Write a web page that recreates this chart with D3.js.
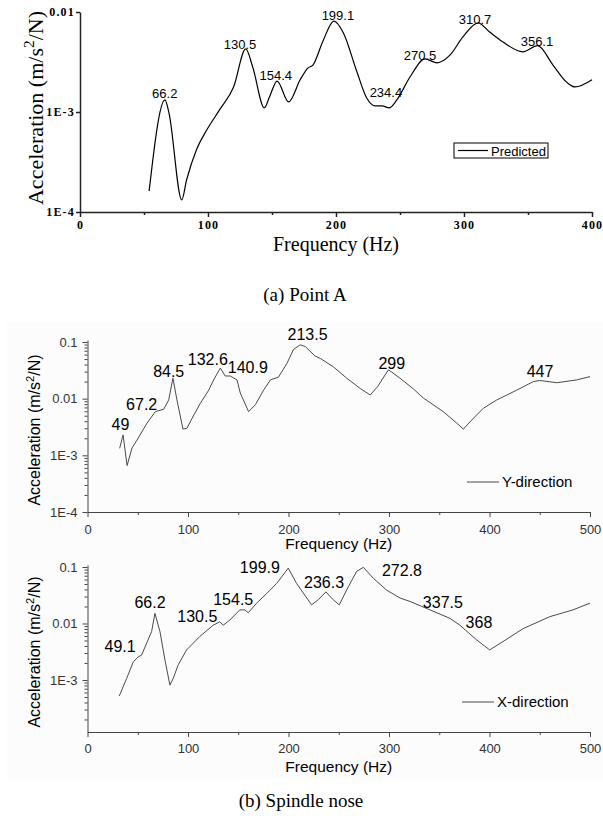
<!DOCTYPE html>
<html>
<head>
<meta charset="utf-8">
<script src="https://cdn.jsdelivr.net/npm/d3@7"></script>
<style>
body { margin: 0; background: #fff; }
svg { display: block; }
</style>
</head>
<body>
<script>

// (a) Point A - predicted response
var freqA = [54, 66.4, 69.5, 79.5, 83.3, 91, 99, 109, 120, 129.5, 135, 144, 148, 154, 163, 172, 178, 182, 190, 198.4,
    205.7, 216, 224, 230.5, 236, 241.6, 247.5, 257.8, 269.5, 279, 289, 299, 311, 320, 330.5, 346, 357.5, 369.5, 380, 386.7, 400];
var accA = [1.62e-4, 1.32e-3, 9.8e-4, 1.32e-4, 2.1e-4, 4.2e-4, 6.6e-4, 1.05e-3, 1.78e-3, 4.27e-3, 2.8e-3, 1.1e-3, 1.41e-3, 2.04e-3, 1.26e-3, 2.1e-3, 2.75e-3, 2.95e-3, 5.2e-3, 8.1e-3,
    6.2e-3, 2.6e-3, 1.38e-3, 1.15e-3, 1.15e-3, 1.1e-3, 1.32e-3, 2.24e-3, 3.4e-3, 3.1e-3, 3.7e-3, 5.6e-3, 7.8e-3, 6.3e-3, 5.0e-3, 4.0e-3, 4.6e-3, 2.95e-3, 2.0e-3, 1.78e-3, 2.1e-3];
var peakTextA = ["66.2", "130.5", "154.4", "199.1", "234.4", "270.5", "310.7", "356.1"];
var peakFreqA = [66.2, 125, 153, 201.5, 239, 265.6, 308.6, 357];
var peakAccA = [1.38e-3, 4.3e-3, 2.1e-3, 8.3e-3, 1.4e-3, 3.3e-3, 7.6e-3, 4.6e-3];

// (b) Spindle nose - Y direction
var freqY = [32, 35.4, 39.4, 44.3, 49.3, 59.2, 67.5, 75.9, 80.8, 85, 89, 95, 99, 104, 112.3, 120.6, 125.5, 132.2, 137, 142,
    148.8, 152, 160.3, 167, 175.2, 182, 190, 198.4, 205, 211.7, 216.7, 226.6, 231.6, 244.8, 258, 271.4, 281.3, 288.5, 299.5, 311,
    324.4, 334.3, 354, 367.4, 374, 382.3, 394, 407.3, 427, 443.6, 450, 467, 486.7, 500];
var accY = [1.33e-3, 2.29e-3, 6.6e-4, 1.35e-3, 1.86e-3, 3.7e-3, 5.9e-3, 6.5e-3, 9.5e-3, 0.0229, 9.5e-3, 2.9e-3, 3.0e-3, 4.5e-3, 8.3e-3, 0.0141, 0.0214, 0.0347, 0.0251, 0.0251,
    0.0214, 0.0126, 5.9e-3, 7.8e-3, 0.0141, 0.0214, 0.024, 0.0417, 0.0741, 0.0891, 0.0832, 0.0562, 0.0513, 0.0363, 0.0229, 0.0151, 0.0116, 0.0162, 0.0324, 0.0229,
    0.0148, 0.0102, 5.9e-3, 3.7e-3, 2.9e-3, 4.2e-3, 6.8e-3, 9.5e-3, 0.0141, 0.02, 0.0209, 0.0191, 0.0214, 0.0245];
var peakTextY = ["49", "67.2", "84.5", "132.6", "140.9", "213.5", "299", "447"];
var peakFreqY = [32.8, 53.9, 80.8, 119.7, 159.5, 219, 302.8, 450.3];
var peakAccY = [2.8e-3, 6.2e-3, 0.024, 0.039, 0.0282, 0.11, 0.0331, 0.024];

// (b) Spindle nose - X direction
var freqX = [31.6, 39, 45.6, 50.5, 53.8, 58.9, 63.8, 67.1, 72.1, 77.1, 82, 85.3, 90.3, 98.6, 111.8, 125, 131.6, 135, 141.6, 151.5,
    156.5, 160, 168.3, 178.3, 188.3, 199.8, 208, 223, 229.6, 237.2, 244.5, 250.5, 259.5, 267.8, 274.5, 284.4, 297.7, 311, 321, 340.8,
    360.7, 370.6, 387.3, 400.2, 413.5, 433.4, 460, 483, 500];
var accX = [5.2e-4, 1.07e-3, 2.1e-3, 2.57e-3, 2.75e-3, 4.5e-3, 7.2e-3, 0.0151, 7.2e-3, 2.24e-3, 8.1e-4, 1.07e-3, 1.86e-3, 3.4e-3, 5.9e-3, 9.3e-3, 0.0107, 9.3e-3, 0.0115, 0.0174,
    0.0174, 0.0155, 0.0229, 0.0339, 0.0513, 0.0955, 0.0513, 0.0214, 0.0263, 0.0363, 0.0263, 0.0214, 0.0447, 0.0832, 0.0986, 0.0631, 0.0389, 0.0282, 0.0245, 0.0174,
    0.0123, 9.3e-3, 5.1e-3, 3.4e-3, 4.8e-3, 8.1e-3, 0.0132, 0.0174, 0.0229];
var peakTextX = ["49.1", "66.2", "130.5", "154.5", "199.9", "236.3", "272.8", "337.5", "368"];
var peakFreqX = [32.4, 62.2, 109.3, 145, 171.5, 235.4, 312.9, 353.6, 389.5];
var peakAccX = [3.16e-3, 0.0186, 0.0107, 0.0214, 0.0776, 0.0417, 0.0692, 0.0186, 8.3e-3];

// axis ticks
var xTicksA = [0, 100, 200, 300, 400];
var xMinorA = [50, 150, 250, 350];
var xTicksB = [0, 100, 200, 300, 400, 500];
var xMinorB = [50, 150, 250, 350, 450];
var yTickValues = [1e-4, 1e-3, 0.01, 0.1];
var yTickLabels = ["1E-4", "1E-3", "0.01", "0.1"];

var SERIF = "'Liberation Serif', 'Times New Roman', serif";
var SANS = "'Liberation Sans', Arial, sans-serif";

var svg = d3.select("body").append("svg")
    .attr("width", 603)
    .attr("height", 816);

// faint backdrop of the lower figure
svg.append("rect")
    .attr("x", 7).attr("y", 322)
    .attr("width", 596).attr("height", 458)
    .attr("fill", "#fcfcfc");

function yLabelFor(d) {
    return yTickLabels[yTickValues.indexOf(d)];
}

function drawPanel(p) {
    var g = svg.append("g");

    var x = d3.scaleLinear().domain([0, p.xMax]).range([p.left, p.right]);
    var y = d3.scaleLog().domain([p.yMin, p.yMax]).range([p.bottom, p.top]);

    // minor ticks
    var xm = g.append("g")
        .attr("transform", "translate(0," + p.bottom + ")")
        .call(d3.axisBottom(x).tickValues(p.xMinor).tickSize(3).tickFormat(""));
    xm.select(".domain").remove();

    if (p.yMinor) {
        var minors = y.ticks().filter(function(d) { return yTickValues.indexOf(d) < 0; });
        var ym = g.append("g")
            .attr("transform", "translate(" + p.left + ",0)")
            .call(d3.axisLeft(y).tickValues(minors).tickSize(3).tickFormat(""));
        ym.select(".domain").remove();
        ym.selectAll("line").attr("stroke", p.axisColor);
    }
    xm.selectAll("line").attr("stroke", p.axisColor).attr("stroke-width", p.axisWidth);

    var majorsY = yTickValues.filter(function(d) { return d >= p.yMin && d <= p.yMax * 1.0001; });

    var xa = g.append("g")
        .attr("transform", "translate(0," + p.bottom + ")")
        .call(d3.axisBottom(x).tickValues(p.xTicks).tickSize(5).tickSizeOuter(0).tickPadding(p.xPad));
    var ya = g.append("g")
        .attr("transform", "translate(" + p.left + ",0)")
        .call(d3.axisLeft(y).tickValues(majorsY).tickFormat(yLabelFor).tickSize(p.yTickSize).tickSizeOuter(0).tickPadding(p.yPad));

    [xa, ya].forEach(function(a) {
        a.select(".domain").attr("stroke", p.axisColor).attr("stroke-width", p.axisWidth);
        a.selectAll("line").attr("stroke", p.axisColor).attr("stroke-width", p.axisWidth);
        a.selectAll("text")
            .attr("fill", p.tickColor)
            .style("font-family", p.tickFont)
            .style("font-size", p.tickSize + "px")
            .style("font-weight", p.tickWeight)
            .style("letter-spacing", p.tickSpacing + "px");
    });

    // response curve
    var line = d3.line()
        .x(function(d) { return x(d[0]); })
        .y(function(d) { return y(d[1]); })
        .curve(p.curve);

    g.append("path")
        .datum(d3.zip(p.freq, p.acc))
        .attr("fill", "none")
        .attr("stroke", p.lineColor)
        .attr("stroke-width", p.lineWidth)
        .attr("stroke-linejoin", "round")
        .attr("d", line);

    // peak frequencies
    g.selectAll(".peak")
        .data(d3.zip(p.peakText, p.peakFreq, p.peakAcc))
        .enter().append("text")
            .attr("class", "peak")
            .attr("x", function(d) { return x(d[1]); })
            .attr("y", function(d) { return y(d[2]); })
            .attr("text-anchor", "middle")
            .style("font-family", SANS)
            .style("font-size", p.peakSize + "px")
            .attr("fill", "#000")
            .text(function(d) { return d[0]; });

    // axis titles
    g.append("text")
        .attr("x", (p.left + p.right) / 2)
        .attr("y", p.xTitleY)
        .attr("text-anchor", "middle")
        .style("font-family", p.titleFont)
        .style("font-size", p.xTitleSize + "px")
        .text("Frequency (Hz)");

    var yt = g.append("text")
        .attr("transform", "translate(" + p.yTitleX + "," + p.yTitleY + ") rotate(-90)")
        .attr("text-anchor", "middle")
        .style("font-family", p.titleFont)
        .style("font-size", p.yTitleSize + "px");
    yt.append("tspan").text("Acceleration (m/s");
    yt.append("tspan").attr("dy", -p.yTitleSize * 0.4).style("font-size", (p.yTitleSize * 0.7) + "px").text("2");
    yt.append("tspan").attr("dy", p.yTitleSize * 0.4).text("/N)");

    // legend
    if (p.legendBox) {
        g.append("rect")
            .attr("x", p.legendBox[0]).attr("y", p.legendBox[1])
            .attr("width", p.legendBox[2]).attr("height", p.legendBox[3])
            .attr("fill", "none").attr("stroke", "#000").attr("stroke-width", 1);
    }
    g.append("line")
        .attr("x1", p.legendX).attr("x2", p.legendX + p.legendLen)
        .attr("y1", p.legendY).attr("y2", p.legendY)
        .attr("stroke", p.lineColor).attr("stroke-width", p.lineWidth);
    g.append("text")
        .attr("x", p.legendX + p.legendLen + 3)
        .attr("y", p.legendY + 5)
        .style("font-family", SANS)
        .style("font-size", p.legendSize + "px")
        .text(p.legendText);
}

drawPanel({
    left: 80, right: 592, top: 12, bottom: 212,
    xMax: 400, yMin: 1e-4, yMax: 0.01,
    xTicks: xTicksA, xMinor: xMinorA, yMinor: false,
    freq: freqA, acc: accA,
    peakText: peakTextA, peakFreq: peakFreqA, peakAcc: peakAccA, peakSize: 13,
    curve: d3.curveMonotoneX, lineColor: "#000", lineWidth: 1.2,
    axisColor: "#222", axisWidth: 1.5,
    tickFont: SERIF, tickSize: 12, tickWeight: "bold", tickColor: "#000", tickSpacing: 1.2,
    xPad: 3, yPad: 1, yTickSize: 4,
    titleFont: SERIF, xTitleSize: 20, xTitleY: 251,
    yTitleSize: 22, yTitleX: 43, yTitleY: 108,
    legendBox: [454, 143, 94, 15], legendX: 458, legendY: 150.5, legendLen: 30,
    legendText: "Predicted", legendSize: 13
});

drawPanel({
    left: 87.5, right: 590, top: 340, bottom: 512,
    xMax: 500, yMin: 1e-4, yMax: 0.1084,
    xTicks: xTicksB, xMinor: xMinorB, yMinor: true,
    freq: freqY, acc: accY,
    peakText: peakTextY, peakFreq: peakFreqY, peakAcc: peakAccY, peakSize: 16,
    curve: d3.curveLinear, lineColor: "#4a4a4a", lineWidth: 1,
    axisColor: "#444", axisWidth: 1,
    tickFont: SANS, tickSize: 13, tickWeight: "normal", tickColor: "#333", tickSpacing: 0,
    xPad: 8, yPad: 5, yTickSize: 5,
    titleFont: SANS, xTitleSize: 15.5, xTitleY: 549,
    yTitleSize: 16, yTitleX: 40, yTitleY: 430,
    legendBox: null, legendX: 467, legendY: 482, legendLen: 32,
    legendText: "Y-direction", legendSize: 15
});

drawPanel({
    left: 87.5, right: 590, top: 565, bottom: 732,
    xMax: 500, yMin: 1.2e-4, yMax: 0.1084,
    xTicks: xTicksB, xMinor: xMinorB, yMinor: true,
    freq: freqX, acc: accX,
    peakText: peakTextX, peakFreq: peakFreqX, peakAcc: peakAccX, peakSize: 16,
    curve: d3.curveLinear, lineColor: "#4a4a4a", lineWidth: 1,
    axisColor: "#444", axisWidth: 1,
    tickFont: SANS, tickSize: 13, tickWeight: "normal", tickColor: "#333", tickSpacing: 0,
    xPad: 7, yPad: 5, yTickSize: 5,
    titleFont: SANS, xTitleSize: 15.5, xTitleY: 772,
    yTitleSize: 16, yTitleX: 40, yTitleY: 652,
    legendBox: null, legendX: 462, legendY: 702, legendLen: 32,
    legendText: "X-direction", legendSize: 15
});

// captions
svg.append("text")
    .attr("x", 305).attr("y", 301)
    .attr("text-anchor", "middle")
    .style("font-family", SERIF)
    .style("font-size", "19px")
    .text("(a) Point A");

svg.append("text")
    .attr("x", 301).attr("y", 807)
    .attr("text-anchor", "middle")
    .style("font-family", SERIF)
    .style("font-size", "19px")
    .text("(b) Spindle nose");

</script>
</body>
</html>
